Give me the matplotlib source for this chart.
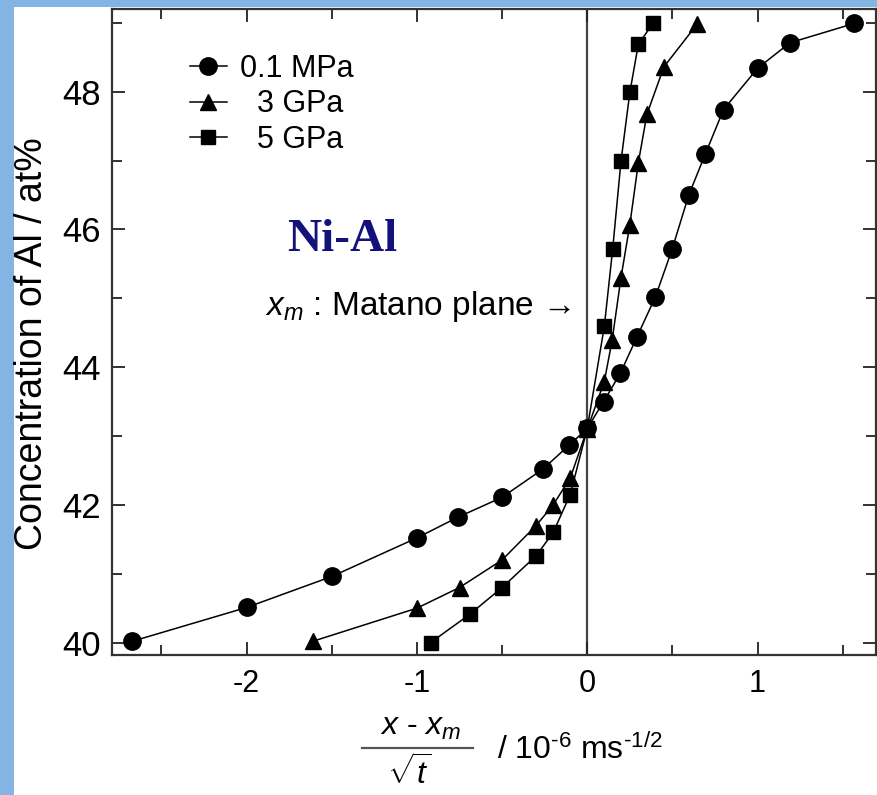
import matplotlib
matplotlib.use('Agg')
import matplotlib.pyplot as plt
from matplotlib.patches import Rectangle
from matplotlib.lines import Line2D
from matplotlib.ticker import MultipleLocator

plt.rcParams['font.family'] = ['Liberation Sans', 'DejaVu Sans']
plt.rcParams['mathtext.fontset'] = 'custom'
plt.rcParams['mathtext.rm'] = 'Liberation Sans'
plt.rcParams['mathtext.it'] = 'Liberation Sans:italic'

# data (x in 10^-6 m s^-1/2, concentration in at%)
x_01 = [-2.67, -2.0, -1.5, -1.0, -0.76, -0.5, -0.26, -0.105, 0.0, 0.096,
        0.194, 0.292, 0.40, 0.498, 0.596, 0.694, 0.80, 1.0, 1.19, 1.567]
c_01 = [40.02, 40.51, 40.96, 41.52, 41.82, 42.11, 42.52, 42.87, 43.11, 43.50,
        43.91, 44.44, 45.02, 45.71, 46.50, 47.10, 47.74, 48.34, 48.71, 48.99]

x_3 = [-1.61, -1.0, -0.75, -0.5, -0.3, -0.2, -0.1, 0.0, 0.1, 0.146,
       0.198, 0.25, 0.30, 0.35, 0.45, 0.645]
c_3 = [40.02, 40.50, 40.80, 41.20, 41.70, 42.00, 42.39, 43.10, 43.79, 44.39,
       45.30, 46.07, 46.97, 47.67, 48.36, 48.98]

x_5 = [-0.92, -0.69, -0.5, -0.3, -0.2, -0.1, 0.0, 0.1, 0.149, 0.198, 0.25, 0.30, 0.386]
c_5 = [40.0, 40.41, 40.80, 41.26, 41.60, 42.15, 43.11, 44.59, 45.71, 46.99, 47.99, 48.69, 48.99]

labels = ['0.1 MPa', '  3 GPa', '  5 GPa']
xticks = [-2, -1, 0, 1]
yticks = [40, 42, 44, 46, 48]

W, H = 878, 795
fig = plt.figure(figsize=(W / 100, H / 100), dpi=100)
fig.patch.set_facecolor('#84b4e4')
# white page area behind everything
fig.patches.append(Rectangle((14 / W, 0), 1, 1 - 7 / H, transform=fig.transFigure,
                             facecolor='white', edgecolor='none', zorder=-5))

ax = fig.add_axes([112 / W, 1 - 655 / H, (876 - 112) / W, (655 - 9) / H])
ax.set_zorder(2)
ax.set_facecolor('white')

ax.axvline(0, color='#444444', linewidth=1.6, zorder=1)

ax.plot(x_01, c_01, '-o', color='black', linewidth=1.1, markersize=12.5, label=labels[0], zorder=3)
ax.plot(x_3, c_3, '-^', color='black', linewidth=1.1, markersize=11, label=labels[1], zorder=3)
ax.plot(x_5, c_5, '-s', color='black', linewidth=1.1, markersize=10, label=labels[2], zorder=3)

ax.set_xlim(-2.79, 1.695)
ax.set_ylim(39.82, 49.2)
ax.xaxis.set_minor_locator(MultipleLocator(0.5))
ax.yaxis.set_minor_locator(MultipleLocator(1))
ax.set_xticks(xticks)
ax.set_xticklabels([str(v) for v in xticks])
ax.set_yticks(yticks)
ax.set_yticklabels([str(v) for v in yticks])
ax.tick_params(which='both', direction='in', top=True, right=True, width=1.3, color='#222222')
ax.tick_params(which='major', length=9.5)
ax.tick_params(which='minor', length=7)
ax.tick_params(axis='y', labelsize=25, pad=8)
ax.tick_params(axis='x', labelsize=22, pad=10)
for s in ax.spines.values():
    s.set_linewidth(1.6)
    s.set_color('#333333')

ax.set_ylabel('Concentration of Al / at%', fontsize=27)
ax.yaxis.set_label_coords(50 / W, 1 - 344 / H, transform=fig.transFigure)

leg = ax.legend(loc='upper left', bbox_to_anchor=(190 / W, 1 - 54 / H),
                bbox_transform=fig.transFigure, frameon=False, fontsize=22,
                handlelength=1.2, handletextpad=0.45, labelspacing=0.18,
                borderpad=0, borderaxespad=0)

fig.text(342 / W, 1 - 240 / H, 'Ni-Al', family='Liberation Serif', fontweight='bold',
         fontsize=34, color='#12127a', ha='center', va='center')
fig.text(265 / W, 1 - 315 / H, r'$x_m$ : Matano plane →', fontsize=24,
         family=['Liberation Sans', 'DejaVu Sans'], ha='left', va='baseline')

# x label as a stacked fraction
fig.text(421 / W, 1 - 735 / H, r'$x$ - $x_m$', fontsize=23, ha='center', va='baseline')
fig.add_artist(Line2D([362 / W, 473 / W], [1 - 748 / H, 1 - 748 / H],
                      transform=fig.transFigure, color='#555555', linewidth=1.6))
fig.text(409 / W, 1 - 785 / H, r'$\sqrt{t}$', fontsize=23, ha='center', va='baseline')
fig.text(497 / W, 1 - 759 / H, r'/ 10$^{\text{-6}}$ ms$^{\text{-1/2}}$', fontsize=23,
         ha='left', va='baseline')

fig.savefig('out.png', dpi=100, facecolor=fig.get_facecolor())
